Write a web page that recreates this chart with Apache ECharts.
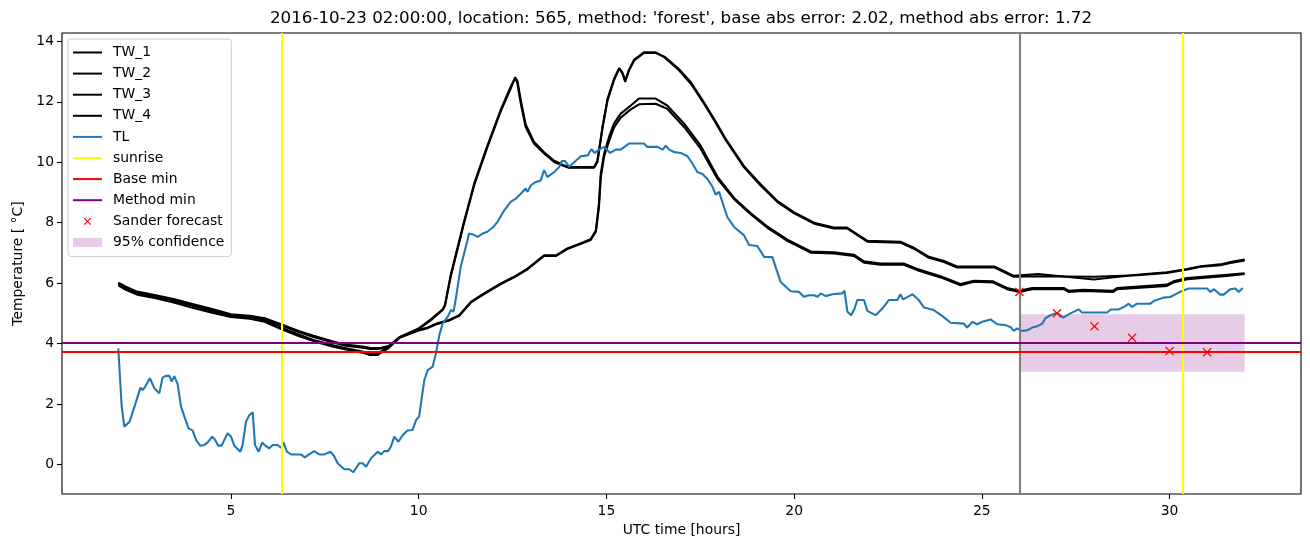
<!DOCTYPE html>
<html>
<head>
<meta charset="utf-8">
<script src="https://cdn.jsdelivr.net/npm/echarts@6/dist/echarts.min.js"></script>
<style>
html,body{margin:0;padding:0;background:#fff;}
#chart{width:1310px;height:547px;}
</style>
</head>
<body>
<div id="chart"></div>
<script>
// ---- data (hours, temperature °C) ----
const TW_1 = [[2.0,5.93],[2.2,5.78],[2.5,5.62],[3.0,5.50],[3.5,5.35],[4.0,5.18],[4.5,5.02],[5.0,4.88],[5.5,4.82],[5.9,4.72],[6.3,4.50],[6.8,4.25],[7.2,4.08],[7.7,3.90],[8.0,3.82],[8.5,3.70],[8.7,3.62],[8.9,3.62],[9.0,3.70],[9.2,3.85],[9.5,4.20],[10.0,4.48],[10.3,4.75],[10.64,5.11],[10.7,5.25],[10.85,6.2],[11.05,7.2],[11.2,7.95],[11.48,9.25],[11.83,10.5],[12.19,11.7],[12.45,12.44],[12.57,12.82],[12.63,12.6],[12.72,11.94],[12.85,11.17],[13.07,10.62],[13.34,10.29],[13.61,10.01],[13.87,9.88],[14.0,9.82],[14.67,9.82],[14.76,10.01],[14.9,11.17],[15.03,12.05],[15.2,12.71],[15.34,13.10],[15.43,12.93],[15.5,12.66],[15.6,13.04],[15.74,13.37],[16.0,13.62],[16.31,13.62],[16.54,13.48],[16.89,13.10],[17.25,12.60],[17.6,11.94],[17.87,11.39],[18.18,10.73],[18.66,9.84],[19.1,9.24],[19.55,8.69],[19.99,8.32],[20.53,7.97],[21.06,7.81],[21.41,7.81],[21.95,7.37],[22.83,7.34],[23.19,7.14],[23.59,6.84],[23.99,6.70],[24.34,6.52],[25.33,6.52],[25.67,6.32],[25.85,6.21],[26.5,6.23],[27.98,6.21],[29.13,6.26],[29.93,6.34],[30.47,6.45],[30.83,6.54],[31.35,6.59],[31.62,6.67],[32.0,6.75]];
const TW_2 = [[2.0,5.98],[2.2,5.82],[2.5,5.66],[3.0,5.55],[3.5,5.40],[4.0,5.24],[4.5,5.07],[5.0,4.92],[5.5,4.86],[5.9,4.77],[6.3,4.55],[6.8,4.30],[7.2,4.12],[7.7,3.95],[8.0,3.86],[8.5,3.74],[8.7,3.68],[8.9,3.66],[9.0,3.74],[9.2,3.88],[9.5,4.22],[10.0,4.50],[10.3,4.78],[10.64,5.13],[10.7,5.28],[10.85,6.25],[11.05,7.25],[11.2,8.0],[11.48,9.3],[11.83,10.55],[12.19,11.75],[12.45,12.5],[12.57,12.78],[12.63,12.7],[12.72,12.05],[12.85,11.25],[13.07,10.68],[13.34,10.33],[13.61,10.05],[13.87,9.9],[14.0,9.84],[14.67,9.84],[14.76,10.05],[14.9,11.2],[15.03,12.1],[15.2,12.75],[15.34,13.12],[15.43,12.96],[15.5,12.7],[15.6,13.06],[15.74,13.4],[16.0,13.64],[16.31,13.64],[16.54,13.5],[16.89,13.14],[17.25,12.65],[17.6,11.98],[17.87,11.43],[18.18,10.77],[18.66,9.88],[19.1,9.28],[19.55,8.72],[19.99,8.35],[20.53,8.0],[21.06,7.84],[21.41,7.84],[21.95,7.40],[22.83,7.37],[23.19,7.17],[23.59,6.87],[23.99,6.73],[24.34,6.55],[25.33,6.55],[25.67,6.35],[25.85,6.24],[26.5,6.30],[27.98,6.12],[29.13,6.28],[29.93,6.36],[30.47,6.47],[30.83,6.56],[31.35,6.62],[31.62,6.70],[32.0,6.78]];
const TW_3 = [[2.0,6.02],[2.2,5.88],[2.5,5.72],[3.0,5.60],[3.5,5.47],[4.0,5.30],[4.5,5.14],[5.0,4.97],[5.5,4.92],[5.9,4.84],[6.3,4.66],[6.8,4.42],[7.2,4.26],[7.7,4.08],[8.0,3.98],[8.5,3.90],[8.7,3.86],[8.9,3.85],[9.0,3.86],[9.2,3.92],[9.5,4.22],[10.0,4.45],[10.24,4.53],[10.5,4.67],[10.81,4.78],[11.08,4.94],[11.39,5.38],[11.74,5.66],[12.19,5.99],[12.54,6.21],[12.9,6.48],[13.34,6.92],[13.66,6.92],[13.96,7.15],[14.32,7.32],[14.58,7.45],[14.72,7.75],[14.80,8.63],[14.85,9.63],[14.94,10.29],[15.07,10.84],[15.2,11.28],[15.38,11.61],[15.65,11.88],[15.87,12.11],[16.31,12.11],[16.62,11.88],[17.07,11.28],[17.51,10.55],[17.96,9.52],[18.4,8.82],[18.84,8.32],[19.28,7.88],[19.82,7.44],[20.44,7.05],[21.06,7.02],[21.59,6.94],[21.86,6.72],[22.3,6.65],[22.92,6.65],[23.28,6.47],[23.9,6.23],[24.43,5.97],[24.79,6.08],[25.3,6.06],[25.67,5.84],[26.0,5.75],[26.34,5.84],[27.18,5.84],[27.31,5.75],[27.7,5.78],[28.5,5.75],[28.6,5.84],[29.93,5.95],[30.1,6.06],[30.47,6.17],[31.53,6.28],[32.0,6.33]];
const TW_4 = [[2.0,5.96],[2.2,5.84],[2.5,5.68],[3.0,5.56],[3.5,5.43],[4.0,5.26],[4.5,5.10],[5.0,4.94],[5.5,4.88],[5.9,4.80],[6.3,4.62],[6.8,4.38],[7.2,4.22],[7.7,4.04],[8.0,3.94],[8.5,3.86],[8.7,3.82],[8.9,3.82],[9.0,3.84],[9.2,3.90],[9.5,4.20],[10.0,4.43],[10.24,4.51],[10.5,4.65],[10.81,4.76],[11.08,4.92],[11.39,5.36],[11.74,5.64],[12.19,5.97],[12.54,6.19],[12.9,6.46],[13.34,6.90],[13.66,6.90],[13.96,7.13],[14.32,7.30],[14.58,7.43],[14.72,7.70],[14.80,8.5],[14.85,9.5],[14.94,10.2],[15.07,10.7],[15.2,11.15],[15.38,11.48],[15.65,11.75],[15.87,11.92],[16.31,11.94],[16.62,11.77],[17.07,11.17],[17.51,10.45],[17.96,9.45],[18.4,8.78],[18.84,8.28],[19.28,7.84],[19.82,7.40],[20.44,7.01],[21.06,6.98],[21.59,6.90],[21.86,6.68],[22.3,6.61],[22.92,6.61],[23.28,6.43],[23.9,6.19],[24.43,5.93],[24.79,6.05],[25.3,6.02],[25.67,5.80],[26.0,5.71],[26.34,5.80],[27.18,5.80],[27.31,5.71],[27.7,5.74],[28.5,5.71],[28.6,5.80],[29.93,5.91],[30.1,6.02],[30.47,6.13],[31.53,6.24],[32.0,6.30]];
const TL = [[2.0,3.84],[2.09,1.91],[2.16,1.25],[2.30,1.41],[2.43,1.91],[2.59,2.54],[2.65,2.46],[2.70,2.54],[2.84,2.85],[2.96,2.52],[3.09,2.35],[3.18,2.88],[3.27,2.93],[3.36,2.93],[3.42,2.74],[3.49,2.92],[3.58,2.66],[3.67,1.91],[3.76,1.58],[3.87,1.19],[3.98,1.12],[4.07,0.81],[4.18,0.62],[4.29,0.64],[4.38,0.73],[4.50,0.92],[4.58,0.81],[4.66,0.62],[4.75,0.62],[4.91,1.03],[5.0,0.92],[5.09,0.62],[5.25,0.42],[5.31,0.64],[5.40,1.41],[5.49,1.63],[5.58,1.72],[5.64,0.64],[5.74,0.42],[5.83,0.72],[5.92,0.62],[6.02,0.53],[6.11,0.64],[6.24,0.64],[6.33,0.55],[6.40,0.73],[6.49,0.42],[6.60,0.33],[6.86,0.33],[6.97,0.23],[7.08,0.33],[7.22,0.44],[7.35,0.33],[7.49,0.33],[7.65,0.42],[7.75,0.27],[7.84,0.04],[8.02,-0.16],[8.15,-0.16],[8.26,-0.26],[8.42,0.04],[8.51,0.04],[8.60,-0.08],[8.73,0.20],[8.91,0.42],[9.0,0.33],[9.08,0.44],[9.19,0.44],[9.26,0.59],[9.35,0.92],[9.46,0.75],[9.57,0.96],[9.70,1.12],[9.84,1.14],[9.93,1.47],[10.01,1.58],[10.06,2.0],[10.15,2.79],[10.24,3.12],[10.37,3.23],[10.46,3.67],[10.55,4.28],[10.64,4.67],[10.77,4.88],[10.86,5.11],[10.93,5.06],[10.99,5.49],[11.12,6.54],[11.30,7.42],[11.34,7.64],[11.43,7.62],[11.57,7.53],[11.70,7.64],[11.83,7.70],[11.97,7.84],[12.10,8.03],[12.28,8.41],[12.45,8.69],[12.59,8.80],[12.72,8.96],[12.85,9.13],[12.90,9.02],[12.99,9.24],[13.12,9.35],[13.25,9.40],[13.34,9.74],[13.43,9.51],[13.61,9.68],[13.74,9.84],[13.81,10.04],[13.90,10.04],[14.01,9.85],[14.14,10.0],[14.32,10.20],[14.50,10.23],[14.60,10.43],[14.69,10.31],[14.80,10.42],[14.94,10.51],[15.10,10.31],[15.25,10.42],[15.38,10.42],[15.60,10.62],[16.0,10.62],[16.09,10.51],[16.36,10.51],[16.50,10.42],[16.58,10.55],[16.67,10.42],[16.80,10.34],[16.98,10.31],[17.16,10.20],[17.29,9.96],[17.42,9.68],[17.56,9.61],[17.69,9.45],[17.82,9.2],[17.91,8.93],[18.0,9.02],[18.22,8.19],[18.40,7.86],[18.66,7.59],[18.80,7.26],[19.02,7.23],[19.20,6.87],[19.42,6.86],[19.64,6.04],[19.91,5.73],[20.13,5.71],[20.26,5.55],[20.39,5.60],[20.53,5.60],[20.62,5.55],[20.71,5.66],[20.84,5.57],[21.02,5.63],[21.28,5.66],[21.34,5.75],[21.42,5.05],[21.52,4.94],[21.61,5.16],[21.68,5.44],[21.86,5.44],[21.95,5.08],[22.17,4.94],[22.35,5.16],[22.52,5.44],[22.75,5.44],[22.83,5.63],[22.90,5.46],[23.15,5.63],[23.32,5.44],[23.46,5.19],[23.72,5.11],[23.95,4.91],[24.17,4.69],[24.52,4.66],[24.61,4.53],[24.75,4.72],[24.87,4.64],[25.01,4.72],[25.23,4.80],[25.41,4.64],[25.63,4.61],[25.76,4.55],[25.85,4.42],[25.94,4.50],[26.07,4.42],[26.21,4.44],[26.34,4.53],[26.47,4.57],[26.61,4.66],[26.69,4.83],[26.83,4.94],[27.0,5.02],[27.17,4.86],[27.36,5.00],[27.58,5.13],[27.67,5.03],[28.34,5.03],[28.43,5.13],[28.65,5.13],[28.82,5.24],[28.91,5.32],[29.0,5.21],[29.13,5.32],[29.49,5.32],[29.58,5.41],[29.84,5.52],[30.02,5.54],[30.20,5.66],[30.33,5.74],[30.51,5.82],[31.0,5.82],[31.09,5.71],[31.18,5.80],[31.35,5.62],[31.44,5.62],[31.62,5.80],[31.75,5.82],[31.84,5.71],[31.95,5.84]];
const SANDER = [[26,5.71],[27,5.00],[28,4.57],[29,4.19],[30,3.75],[31,3.71]];
const SUNRISE = [6.35, 30.36];
const FORECAST_START = 26.0;
const BASE_MIN = 3.72;
const METHOD_MIN = 4.02;
const CONF_X = [26.0, 32.0];
const CONF_Y = [3.07, 4.97];
const X_TICKS = [5, 10, 15, 20, 25, 30];
const Y_TICKS = [0, 2, 4, 6, 8, 10, 12, 14];
const TITLE = "2016-10-23 02:00:00, location: 565, method: 'forest', base abs error: 2.02, method abs error: 1.72";

const FONT = 'DejaVu Sans';
const chart = echarts.init(document.getElementById('chart'), null, {renderer: 'canvas'});
const lw = 2.08;
function twSeries(name, data) {
  return {name, type: 'line', data, symbol: 'none', showSymbol: false,
    lineStyle: {color: '#000', width: lw}, itemStyle: {color: '#000'}, z: 2};
}
const xPath = 'path://M0,1L1,0L5,4L9,0L10,1L6,5L10,9L9,10L5,6L1,10L0,9L4,5Z';
const option = {
  animation: false,
  backgroundColor: '#fff',
  textStyle: {fontFamily: FONT},
  title: {
    text: TITLE, left: 681, top: 10, textAlign: 'center', padding: 0,
    textStyle: {fontFamily: FONT, fontSize: 16.7, fontWeight: 'normal', color: '#000'}
  },
  grid: {left: 62, right: 9, top: 33, bottom: 53, show: true, borderColor: '#000', borderWidth: 1.1, backgroundColor: 'transparent'},
  legend: {
    orient: 'vertical', left: 68, top: 39,
    itemWidth: 29, itemHeight: 9, itemGap: 7.1,
    padding: [6.5, 7, 7, 4],
    itemStyle: {opacity: 0},
    backgroundColor: 'rgba(255,255,255,0.8)', borderColor: '#cccccc', borderWidth: 1, borderRadius: 3,
    textStyle: {fontFamily: FONT, fontSize: 13.9, color: '#000', padding: [0, 0, 0, 6]},
    data: ['TW_1', 'TW_2', 'TW_3', 'TW_4', 'TL', 'sunrise', 'Base min', 'Method min',
      {name: 'Sander forecast', itemStyle: {opacity: 1, color: '#ff0000'}},
      {name: '95% confidence', icon: 'rect', itemStyle: {opacity: 1, color: 'rgba(128,0,128,0.2)'}}]
  },
  xAxis: {
    type: 'value', min: 0.5, max: 33.5,
    name: 'UTC time [hours]', nameLocation: 'middle', nameGap: 27,
    nameTextStyle: {fontFamily: FONT, fontSize: 13.9, color: '#000'},
    axisLine: {show: false, onZero: false},
    axisTick: {show: true, inside: false, length: 5, lineStyle: {color: '#000', width: 1.1}, customValues: X_TICKS},
    axisLabel: {show: true, margin: 10, fontFamily: FONT, fontSize: 13.9, color: '#000', customValues: X_TICKS},
    splitLine: {show: false}
  },
  yAxis: {
    type: 'value', min: -0.98, max: 14.28,
    name: 'Temperature [ °C]', nameLocation: 'middle', nameGap: 36,
    nameTextStyle: {fontFamily: FONT, fontSize: 13.9, color: '#000'},
    axisLine: {show: false, onZero: false},
    axisTick: {show: true, inside: false, length: 5, lineStyle: {color: '#000', width: 1.1}, customValues: Y_TICKS},
    axisLabel: {show: true, margin: 8, fontFamily: FONT, fontSize: 13.9, color: '#000', customValues: Y_TICKS},
    splitLine: {show: false}
  },
  series: [
    twSeries('TW_1', TW_1),
    twSeries('TW_2', TW_2),
    twSeries('TW_3', TW_3),
    twSeries('TW_4', TW_4),
    {name: 'TL', type: 'line', data: TL, symbol: 'none', showSymbol: false,
      lineStyle: {color: '#1f77b4', width: lw}, itemStyle: {color: '#1f77b4'}, z: 3},
    {name: 'sunrise', type: 'line', data: [], symbol: 'none', color: '#ffff00',
      lineStyle: {color: '#ffff00', width: lw}, itemStyle: {color: '#ffff00'}, z: 4,
      markLine: {silent: true, symbol: ['none', 'none'], label: {show: false},
        lineStyle: {color: '#ffff00', width: lw, type: 'solid'},
        data: SUNRISE.map(v => ({xAxis: v}))}},
    {name: 'forecast start', type: 'line', data: [], symbol: 'none', color: '#808080', z: 4,
      markLine: {silent: true, symbol: ['none', 'none'], label: {show: false},
        lineStyle: {color: '#808080', width: lw, type: 'solid'},
        data: [{xAxis: FORECAST_START}]}},
    {name: 'Base min', type: 'line', data: [], symbol: 'none', color: '#ff0000',
      lineStyle: {color: '#ff0000', width: lw}, itemStyle: {color: '#ff0000'}, z: 4,
      markLine: {silent: true, symbol: ['none', 'none'], label: {show: false},
        lineStyle: {color: '#ff0000', width: lw, type: 'solid'},
        data: [{yAxis: BASE_MIN}]}},
    {name: 'Method min', type: 'line', data: [], symbol: 'none', color: '#800080',
      lineStyle: {color: '#800080', width: lw}, itemStyle: {color: '#800080'}, z: 4,
      markLine: {silent: true, symbol: ['none', 'none'], label: {show: false},
        lineStyle: {color: '#800080', width: lw, type: 'solid'},
        data: [{yAxis: METHOD_MIN}]}},
    {name: 'Sander forecast', type: 'line', data: SANDER, symbol: xPath, symbolSize: 9, showSymbol: true,
      color: '#ff0000', lineStyle: {width: 0, opacity: 0}, itemStyle: {color: '#ff0000'}, z: 5},
    {name: '95% confidence', type: 'line', data: [], symbol: 'none', color: 'rgba(128,0,128,0.2)', z: 1,
      markArea: {silent: true, itemStyle: {color: 'rgba(128,0,128,0.2)'},
        data: [[{coord: [CONF_X[0], CONF_Y[0]]}, {coord: [CONF_X[1], CONF_Y[1]]}]]}}
  ]
};
chart.setOption(option);
</script>
</body>
</html>
